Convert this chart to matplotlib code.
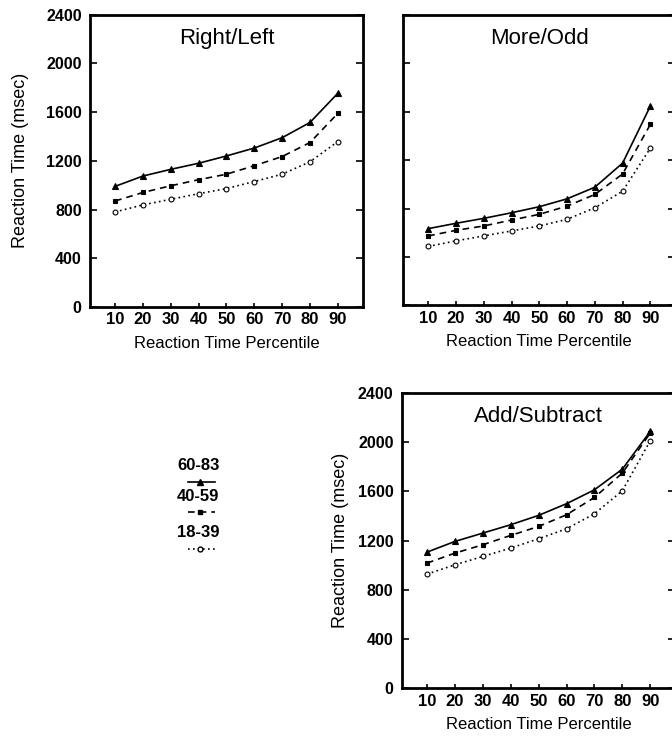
import numpy as np
import matplotlib.pyplot as plt

plt.rcParams['font.family'] = ['Liberation Sans', 'DejaVu Sans']

# percentiles
pct = [10, 20, 30, 40, 50, 60, 70, 80, 90]
yticks = [0, 400, 800, 1200, 1600, 2000, 2400]

# Right/Left
rl_old = [990, 1075, 1130, 1180, 1240, 1305, 1390, 1515, 1755]
rl_mid = [870, 940, 995, 1045, 1090, 1160, 1235, 1350, 1590]
rl_young = [780, 838, 884, 930, 972, 1030, 1090, 1192, 1358]

# More/Odd
mo_old = [634, 678, 719, 765, 815, 880, 976, 1175, 1646]
mo_mid = [574, 620, 656, 705, 752, 820, 916, 1085, 1495]
mo_young = [487, 533, 574, 615, 656, 711, 806, 943, 1299]

# Add/Subtract
as_old = [1106, 1193, 1261, 1329, 1405, 1500, 1613, 1781, 2088]
as_mid = [1017, 1098, 1166, 1242, 1315, 1410, 1551, 1749, 2074]
as_young = [927, 1003, 1071, 1139, 1215, 1296, 1418, 1605, 2012]

groups = ['60-83', '40-59', '18-39']
styles = [dict(ls='-', marker='^', mfc='black', ms=4),
          dict(ls=(0, (4, 3)), marker='s', mfc='black', ms=3.5),
          dict(ls=(0, (1, 2)), marker='o', mfc='white', ms=3.5)]

fig = plt.figure(figsize=(6.72, 7.36), dpi=100)


def panel(rect, title, series, ylabpad=None):
    ax = fig.add_axes(rect)
    for vals, st in zip(series, styles):
        ax.plot(pct, vals, color='black', lw=1.2, mec='black', mew=0.8, **st)
    ax.set_xlim(1, 99)
    ax.set_ylim(0, 2400)
    ax.set_xticks(pct)
    ax.set_yticks(yticks)
    for s in ax.spines.values():
        s.set_linewidth(2)
    ax.tick_params(axis='y', direction='in', length=5, width=1.2, right=True,
                   labelsize=11.5, pad=6)
    ax.tick_params(axis='x', direction='in', length=3, width=1.2, labelsize=12, pad=4)
    for lb in ax.get_xticklabels() + ax.get_yticklabels():
        lb.set_fontweight('bold')
    if ylabpad is None:
        ax.set_yticklabels([])
    else:
        ax.set_ylabel('Reaction Time (msec)', fontsize=13, labelpad=ylabpad)
    ax.set_xlabel('Reaction Time Percentile', fontsize=12, labelpad=6)
    ax.text(0.5, 0.955, title, transform=ax.transAxes, ha='center', va='top',
            fontsize=16)
    return ax


panel([0.134, 0.583, 0.406, 0.397], 'Right/Left', [rl_old, rl_mid, rl_young], 12)
panel([0.600, 0.585, 0.405, 0.395], 'More/Odd', [mo_old, mo_mid, mo_young])
panel([0.598, 0.065, 0.407, 0.401], 'Add/Subtract', [as_old, as_mid, as_young], 6)

# legend drawn by hand in the empty bottom-left area
text_y = [0.3675, 0.326, 0.2765]
line_y = [0.3455, 0.3043, 0.254]
for g, st, ty, ly in zip(groups, styles, text_y, line_y):
    fig.text(0.295, ty, g, ha='center', va='center', fontsize=12, fontweight='bold')
    fig.add_artist(plt.Line2D([0.280, 0.320], [ly, ly], color='black', lw=1.2,
                              ls=st['ls'], transform=fig.transFigure))
    fig.add_artist(plt.Line2D([0.298], [ly], marker=st['marker'], mfc=st['mfc'],
                              mec='black', ms=st['ms'], ls='none',
                              transform=fig.transFigure))

fig.savefig('out.png', dpi=100)
